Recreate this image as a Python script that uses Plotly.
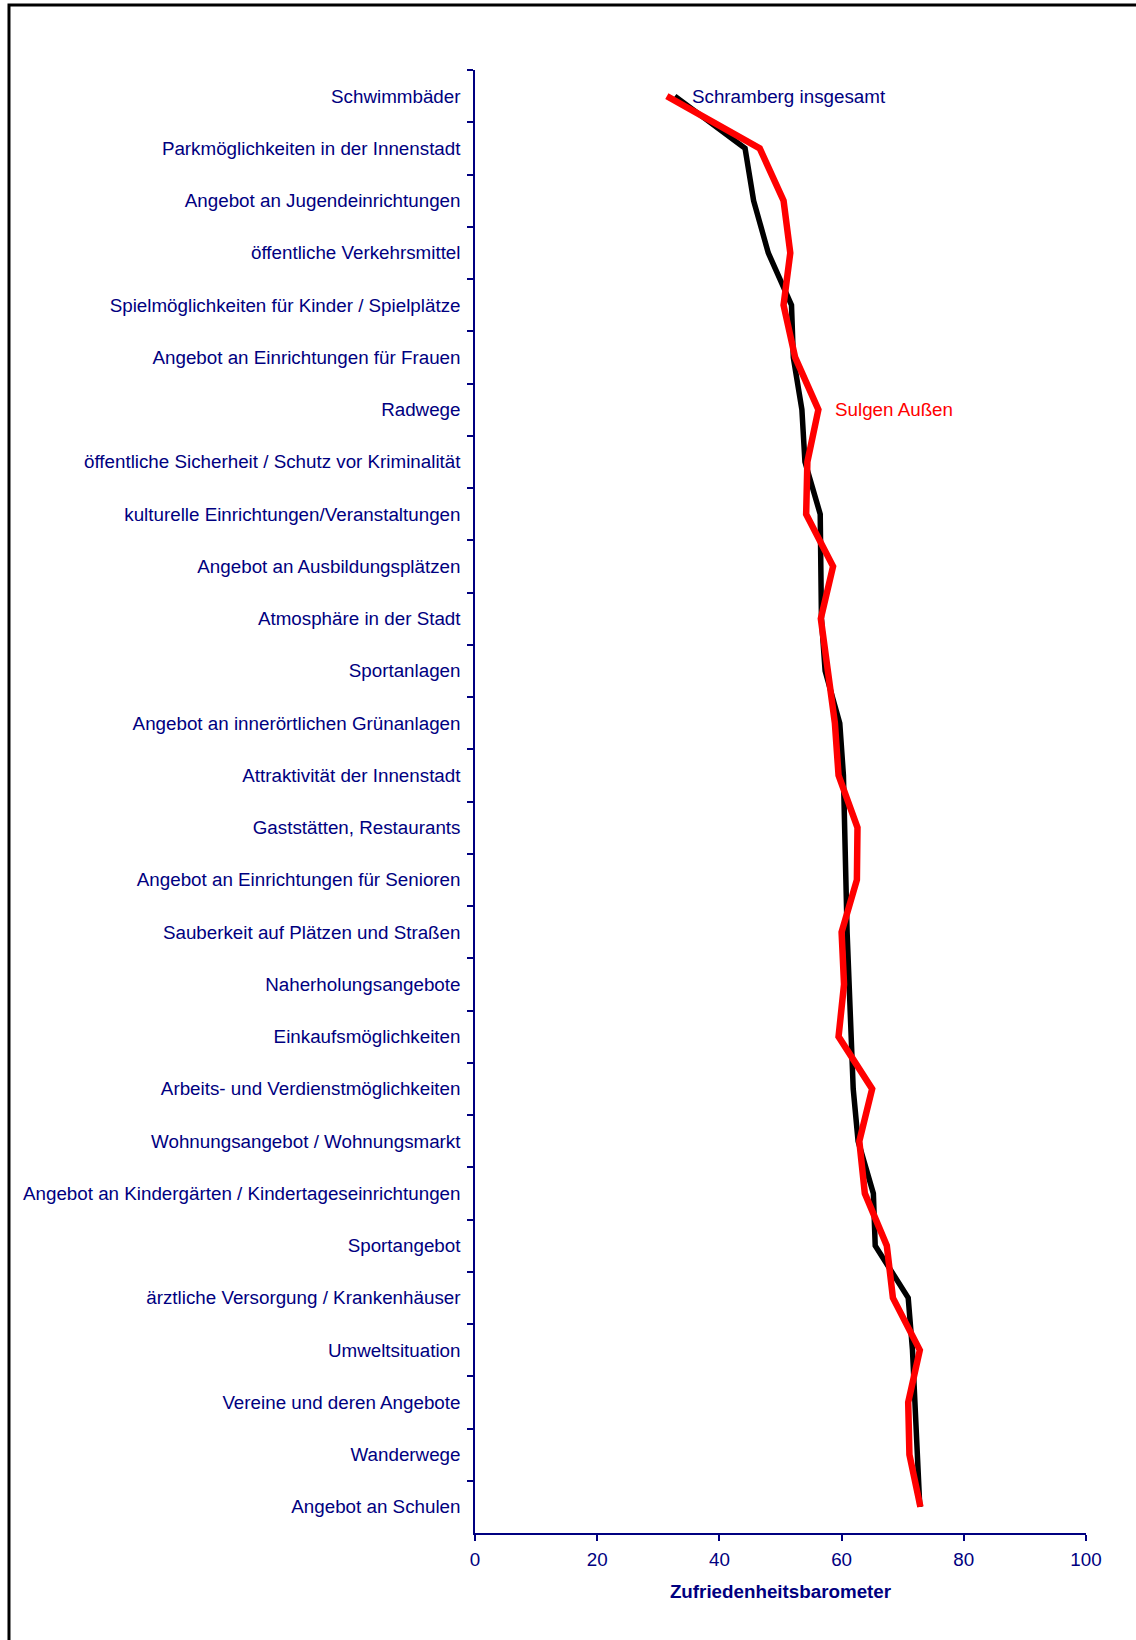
import plotly.graph_objects as go

# Survey items (top to bottom)
categories = [
    "Schwimmbäder",
    "Parkmöglichkeiten in der Innenstadt",
    "Angebot an Jugendeinrichtungen",
    "öffentliche Verkehrsmittel",
    "Spielmöglichkeiten für Kinder / Spielplätze",
    "Angebot an Einrichtungen für Frauen",
    "Radwege",
    "öffentliche Sicherheit / Schutz vor Kriminalität",
    "kulturelle Einrichtungen/Veranstaltungen",
    "Angebot an Ausbildungsplätzen",
    "Atmosphäre in der Stadt",
    "Sportanlagen",
    "Angebot an innerörtlichen Grünanlagen",
    "Attraktivität der Innenstadt",
    "Gaststätten, Restaurants",
    "Angebot an Einrichtungen für Senioren",
    "Sauberkeit auf Plätzen und Straßen",
    "Naherholungsangebote",
    "Einkaufsmöglichkeiten",
    "Arbeits- und Verdienstmöglichkeiten",
    "Wohnungsangebot / Wohnungsmarkt",
    "Angebot an Kindergärten / Kindertageseinrichtungen",
    "Sportangebot",
    "ärztliche Versorgung / Krankenhäuser",
    "Umweltsituation",
    "Vereine und deren Angebote",
    "Wanderwege",
    "Angebot an Schulen",
]

schramberg_insgesamt = [
    32.7, 44.2, 45.6, 48.0, 51.8, 52.1, 53.5, 54.0, 56.5, 56.6,
    56.7, 57.3, 59.7, 60.3, 60.4, 60.7, 60.9, 61.3, 61.6, 61.9,
    62.7, 65.2, 65.5, 70.9, 71.6, 72.0, 72.6, 72.8,
]

sulgen_aussen = [
    31.4, 46.6, 50.5, 51.6, 50.5, 52.4, 56.2, 54.4, 54.2, 58.6,
    56.6, 57.8, 58.9, 59.5, 62.6, 62.5, 60.0, 60.4, 59.5, 65.0,
    62.9, 63.8, 67.4, 68.4, 72.8, 70.9, 71.1, 72.9,
]

x_ticks = [0, 20, 40, 60, 80, 100]

NAVY = "#000080"
FONT = "Liberation Sans, Arial, sans-serif"
FS = 18.8

fig = go.Figure()
fig.add_trace(go.Scatter(
    x=schramberg_insgesamt, y=categories, mode="lines",
    line=dict(color="#000000", width=5.5), name="Schramberg insgesamt",
))
fig.add_trace(go.Scatter(
    x=sulgen_aussen, y=categories, mode="lines",
    line=dict(color="#FF0000", width=6.5), name="Sulgen Außen",
))

fig.add_annotation(
    x=35.2, y="Schwimmbäder", text="Schramberg insgesamt", showarrow=False,
    xanchor="left", yanchor="middle", font=dict(color=NAVY, size=FS, family=FONT),
)
fig.add_annotation(
    x=58.6, y="Radwege", text="Sulgen Außen", showarrow=False,
    xanchor="left", yanchor="middle", font=dict(color="#FF0000", size=FS, family=FONT),
)

# Outer frame of the chart area
fig.add_shape(
    type="rect", xref="paper", yref="paper",
    x0=-0.7627, y0=-0.08, x1=1.09, y1=1.0444,
    line=dict(color="#000000", width=3), fillcolor="rgba(0,0,0,0)", layer="below",
)

fig.update_layout(
    width=1136, height=1640,
    margin=dict(l=475, r=50, t=70, b=107),
    paper_bgcolor="white", plot_bgcolor="white",
    showlegend=False,
    font=dict(family=FONT, color=NAVY, size=FS),
)
fig.update_xaxes(
    range=[0, 100], tickvals=x_ticks, ticktext=[str(v) for v in x_ticks],
    showgrid=False, zeroline=False,
    showline=True, linecolor=NAVY, linewidth=1.5,
    ticks="outside", ticklen=6, tickcolor=NAVY, tickwidth=1.5,
    ticklabelstandoff=3,
    tickfont=dict(size=FS, color=NAVY),
    title=dict(text="<b>Zufriedenheitsbarometer</b>", font=dict(size=FS, color=NAVY), standoff=16),
)
fig.update_yaxes(
    type="category", categoryorder="array", categoryarray=categories,
    range=[len(categories) - 0.5, -0.5],
    showgrid=False, zeroline=False,
    showline=True, linecolor=NAVY, linewidth=1.5,
    ticks="outside", ticklen=6, tickcolor=NAVY, tickwidth=1.5,
    tickson="boundaries", ticklabelstandoff=9,
    tickfont=dict(size=FS, color=NAVY),
)

fig.write_html("out.html")
